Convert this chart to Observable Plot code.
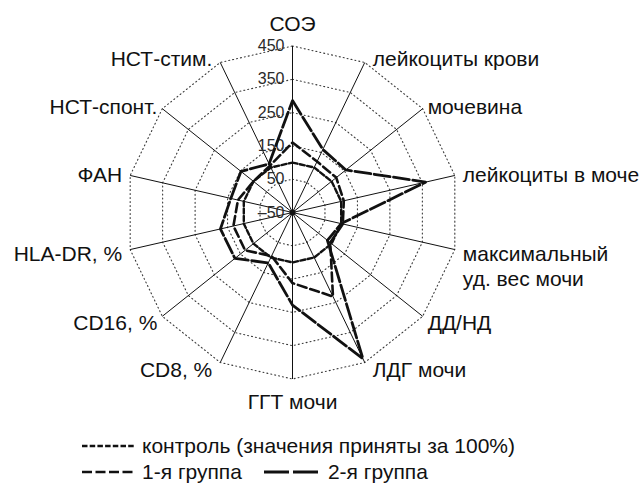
<!DOCTYPE html>
<html>
<head>
<meta charset="utf-8">
<script src="https://cdn.jsdelivr.net/npm/d3@7"></script>
<script src="https://cdn.jsdelivr.net/npm/@observablehq/plot@0.6"></script>
<style>
  body { margin: 0; background: #fff; font-family: "Liberation Sans", Arial, sans-serif; }
  #legend { margin-top: 8px; font-size: 21px; color: #111; }
  .row { height: 26px; display: flex; align-items: center; padding-left: 82px; }
  .row svg { display: block; margin-right: 7px; }
  .row span { white-space: nowrap; }
</style>
</head>
<body>
<div id="chart"></div>
<div id="legend"></div>
<script>
// ---- data ----
const categories = [
  "СОЭ", "лейкоциты крови", "мочевина", "лейкоциты в моче",
  "максимальный\nуд. вес мочи", "ДД/НД", "ЛДГ мочи", "ГГТ мочи",
  "CD8, %", "CD16, %", "HLA-DR, %", "ФАН", "НСТ-спонт.", "НСТ-стим."
];
const control = [100, 100, 100, 100, 100, 100, 100, 100, 100, 100, 100, 100, 100, 100];
const group1  = [160, 120, 118, 108, 105, 95, 230, 162, 95, 132, 132, 118, 100, 106];
const group2  = [286, 160, 155, 360, 100, 84, 437, 228, 118, 171, 172, 140, 148, 112];
const tickValues = [-50, 50, 150, 250, 350, 450];
const tickLabels = ["\u201350", "50", "150", "250", "350", "450"];
const seriesNames = ["контроль (значения приняты за 100%)", "1-я группа", "2-я группа"];

// ---- layout ----
const W = 641, H = 425, CX = 292, CY = 212, R = 166.5;
const rScale = d3.scaleLinear().domain([-50, 450]).range([0, 1]);
const n = categories.length;
const ang = i => i * 2 * Math.PI / n;
const ptX = (i, v) => rScale(v) * Math.sin(ang(i));
const ptY = (i, v) => rScale(v) * Math.cos(ang(i));

const styles = [
  {values: control, dash: "5,2.5", width: 2.4, legendDash: "5.5,2.2"},
  {values: group1,  dash: "9,4",   width: 2.6, legendDash: "10,3.5"},
  {values: group2,  dash: "16,3.5", width: 2.8, legendDash: "25,4"}
];

const rings = tickValues.filter(v => v > -50).flatMap(v =>
  categories.map((c, i) => ({ring: v, x: ptX(i, v), y: ptY(i, v)})));
const axes = categories.map((c, i) => ({x: ptX(i, 450), y: ptY(i, 450)}));
const ticks = tickValues.map((v, i) => ({v, label: tickLabels[i]}));

const lh = 1.2, fs = 21;
const labelInfo = categories.map((c, i) => {
  const s = Math.sin(ang(i)), co = Math.cos(ang(i));
  const lines = c.split("\n").length;
  let ox = 0, oy = 0, anchor = "middle";
  if (i === 0) { oy = -23; }
  else if (i === n / 2) { oy = 22; }
  else {
    anchor = s > 0 ? "start" : "end";
    const d = Math.abs(Math.abs(co) - 0.62) < 0.1 ? 5 : 8;
    ox = (s > 0 ? 1 : -1) * d;
    oy = -5 * co + (co < 0 ? 2 : 0) + (lines - 1) * lh * fs / 2;
  }
  return {text: c, anchor, x: ptX(i, 450) + ox / R, y: ptY(i, 450) - oy / R};
});

const marks = [
  Plot.line(rings, {x: "x", y: "y", z: "ring", curve: "linear-closed",
    stroke: "#3a3a3a", strokeWidth: 1.1, strokeDasharray: "1,3"}),
  Plot.link(axes, {x1: () => 0, y1: () => 0, x2: "x", y2: "y", stroke: "#111", strokeWidth: 1}),
  Plot.text(ticks, {x: () => 0, y: d => rScale(d.v), text: "label", textAnchor: "end",
    dx: -8, fontSize: 16, fill: "#2a2a2a"})
];
styles.forEach(st => {
  const pts = categories.map((c, i) => ({x: ptX(i, st.values[i]), y: ptY(i, st.values[i])}));
  marks.push(Plot.line(pts, {x: "x", y: "y", curve: "linear-closed", stroke: "#111",
    strokeWidth: st.width, strokeDasharray: st.dash}));
});
marks.push(Plot.dot([0], {x: () => 0, y: () => 0, r: 3, fill: "#111"}));
["start", "middle", "end"].forEach(a => {
  marks.push(Plot.text(labelInfo.filter(d => d.anchor === a), {
    x: "x", y: "y", text: "text", textAnchor: a, fontSize: fs, lineHeight: lh, fill: "#111"}));
});

const chart = Plot.plot({
  width: W, height: H, margin: 0,
  x: {domain: [-CX / R, (W - CX) / R], range: [0, W], axis: null},
  y: {domain: [-(H - CY) / R, CY / R], range: [H, 0], axis: null},
  style: {fontFamily: "'Liberation Sans', Arial, sans-serif", background: "white", overflow: "visible"},
  marks
});
document.getElementById("chart").appendChild(chart);

// ---- legend ----
const legend = document.getElementById("legend");
function sample(st, w) {
  const ns = "http://www.w3.org/2000/svg";
  const svg = document.createElementNS(ns, "svg");
  svg.setAttribute("width", w); svg.setAttribute("height", 10);
  const l = document.createElementNS(ns, "line");
  l.setAttribute("x1", 0); l.setAttribute("x2", w); l.setAttribute("y1", 5); l.setAttribute("y2", 5);
  l.setAttribute("stroke", "#111"); l.setAttribute("stroke-width", st.width);
  l.setAttribute("stroke-dasharray", st.legendDash);
  svg.appendChild(l);
  return svg;
}
function item(row, k, w, ml) {
  const s = sample(styles[k], w);
  if (ml) s.style.marginLeft = ml + "px";
  row.appendChild(s);
  const sp = document.createElement("span");
  sp.textContent = seriesNames[k];
  row.appendChild(sp);
}
const row1 = document.createElement("div"); row1.className = "row";
item(row1, 0, 53);
const row2 = document.createElement("div"); row2.className = "row";
item(row2, 1, 53);
item(row2, 2, 57, 22);
legend.appendChild(row1); legend.appendChild(row2);
</script>
</body>
</html>
